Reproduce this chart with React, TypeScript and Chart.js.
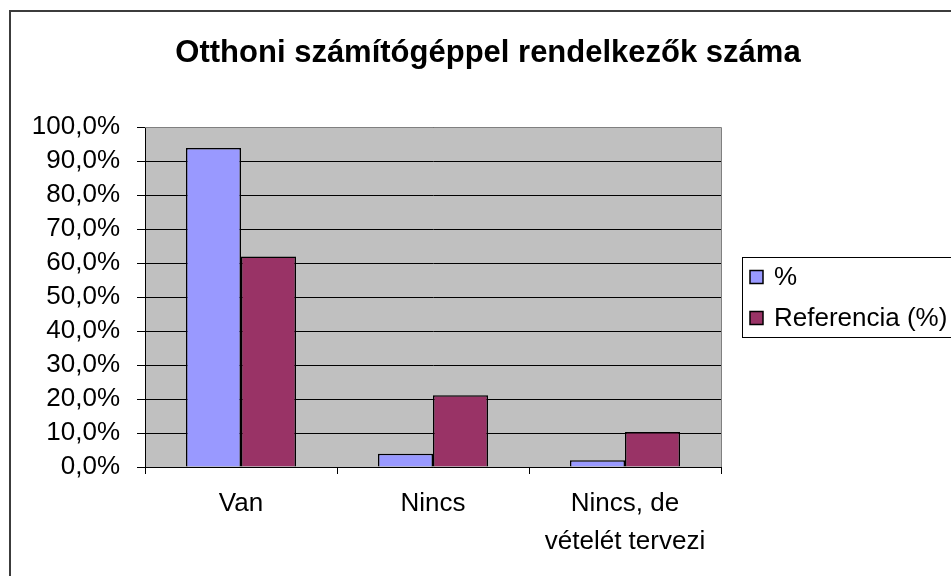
import React, { useEffect, useRef } from "react";
import { Chart, registerables } from "chart.js";

Chart.register(...registerables);

const TITLE = "Otthoni számítógéppel rendelkezők száma";
const categories: string[][] = [["Van"], ["Nincs"], ["Nincs, de", "vételét tervezi"]];
const seriesNames = ["%", "Referencia (%)"];
const seriesPercent = [93.8, 3.9, 2.0];
const seriesReference = [61.9, 21.1, 10.3];
const yMin = 0;
const yMax = 100;
const yStep = 10;

const COLORS = ["#9999FF", "#993366"];
const FONT = "'Liberation Sans', Arial, Helvetica, sans-serif";
const W = 951;
const H = 576;

const decorPlugin = {
  id: "decor",
  beforeDraw(chart: any) {
    const { ctx, chartArea } = chart;
    ctx.save();
    ctx.fillStyle = "#FFFFFF";
    ctx.fillRect(0, 0, chart.width, chart.height);
    ctx.fillStyle = "#C0C0C0";
    ctx.fillRect(chartArea.left, chartArea.top, chartArea.right - chartArea.left, chartArea.bottom - chartArea.top);
    ctx.restore();
  },
  afterDraw(chart: any) {
    const { ctx, chartArea } = chart;
    ctx.save();
    // plot area grey border (top & right)
    ctx.strokeStyle = "#808080";
    ctx.lineWidth = 1;
    ctx.beginPath();
    ctx.moveTo(chartArea.left, chartArea.top + 0.5);
    ctx.lineTo(chartArea.right + 0.5, chartArea.top + 0.5);
    ctx.lineTo(chartArea.right + 0.5, chartArea.bottom);
    ctx.stroke();

    // outer frame
    ctx.strokeStyle = "#3c3c3c";
    ctx.lineWidth = 2;
    ctx.beginPath();
    ctx.moveTo(10, H);
    ctx.lineTo(10, 11);
    ctx.lineTo(W, 11);
    ctx.stroke();

    // title
    ctx.fillStyle = "#000";
    ctx.font = `bold 31px ${FONT}`;
    ctx.textAlign = "center";
    ctx.textBaseline = "alphabetic";
    ctx.fillText(TITLE, 488, 62);

    // legend
    ctx.strokeStyle = "#000";
    ctx.lineWidth = 1;
    ctx.strokeRect(742.5, 257.5, 300, 80);
    ctx.font = `26px ${FONT}`;
    ctx.textAlign = "left";
    ctx.textBaseline = "middle";
    chart.data.datasets.forEach((ds: any, i: number) => {
      const cy = 277 + i * 41;
      ctx.fillStyle = ds.backgroundColor;
      ctx.fillRect(750, cy - 6.5, 13, 13);
      ctx.strokeStyle = "#000";
      ctx.lineWidth = 1.5;
      ctx.strokeRect(750, cy - 6.5, 13, 13);
      ctx.fillStyle = "#000";
      ctx.fillText(ds.label, 774, cy + 1);
    });
    ctx.restore();
  },
};

export default function App() {
  const ref = useRef<HTMLCanvasElement>(null);
  useEffect(() => {
    if (!ref.current) return;
    const chart = new Chart(ref.current, {
      type: "bar",
      data: {
        labels: categories,
        datasets: [
          {
            label: seriesNames[0],
            data: seriesPercent,
            backgroundColor: COLORS[0],
            borderColor: "#000",
            borderWidth: 1.5,
            categoryPercentage: 0.573,
            barPercentage: 1,
          },
          {
            label: seriesNames[1],
            data: seriesReference,
            backgroundColor: COLORS[1],
            borderColor: "#000",
            borderWidth: 1.5,
            categoryPercentage: 0.573,
            barPercentage: 1,
          },
        ],
      },
      options: {
        animation: false,
        responsive: false,
        maintainAspectRatio: false,
        devicePixelRatio: 1,
        layout: { padding: { top: 127, right: 230, left: 0, bottom: 0 } },
        plugins: {
          legend: { display: false },
          title: { display: false },
          tooltip: { enabled: false },
        },
        scales: {
          x: {
            offset: true,
            grid: {
              display: true,
              drawOnChartArea: false,
              drawTicks: true,
              tickLength: 7,
              color: "#000",
              offset: true,
            },
            border: { display: true, color: "#000", width: 1 },
            ticks: {
              color: "#000",
              font: { family: FONT, size: 26, lineHeight: 1.45 },
              padding: 11,
              maxRotation: 0,
              autoSkip: false,
            },
            afterFit(scale: any) {
              scale.height = H - 467;
            },
          },
          y: {
            min: yMin,
            max: yMax,
            grid: {
              color: "#000",
              lineWidth: 1,
              drawTicks: true,
              tickLength: 8,
            },
            border: { display: true, color: "#000", width: 1 },
            ticks: {
              stepSize: yStep,
              autoSkip: false,
              color: "#000",
              padding: 17,
              font: { family: FONT, size: 26 },
              callback: (v: any) => Number(v).toFixed(1).replace(".", ",") + "%",
            },
            afterFit(scale: any) {
              scale.width = 145;
            },
          },
        },
      },
      plugins: [decorPlugin],
    });
    return () => chart.destroy();
  }, []);
  return (
    <div style={{ position: "absolute", left: 0, top: 0, width: W, height: H }}>
      <canvas ref={ref} width={W} height={H} style={{ width: W, height: H, display: "block" }} />
    </div>
  );
}
